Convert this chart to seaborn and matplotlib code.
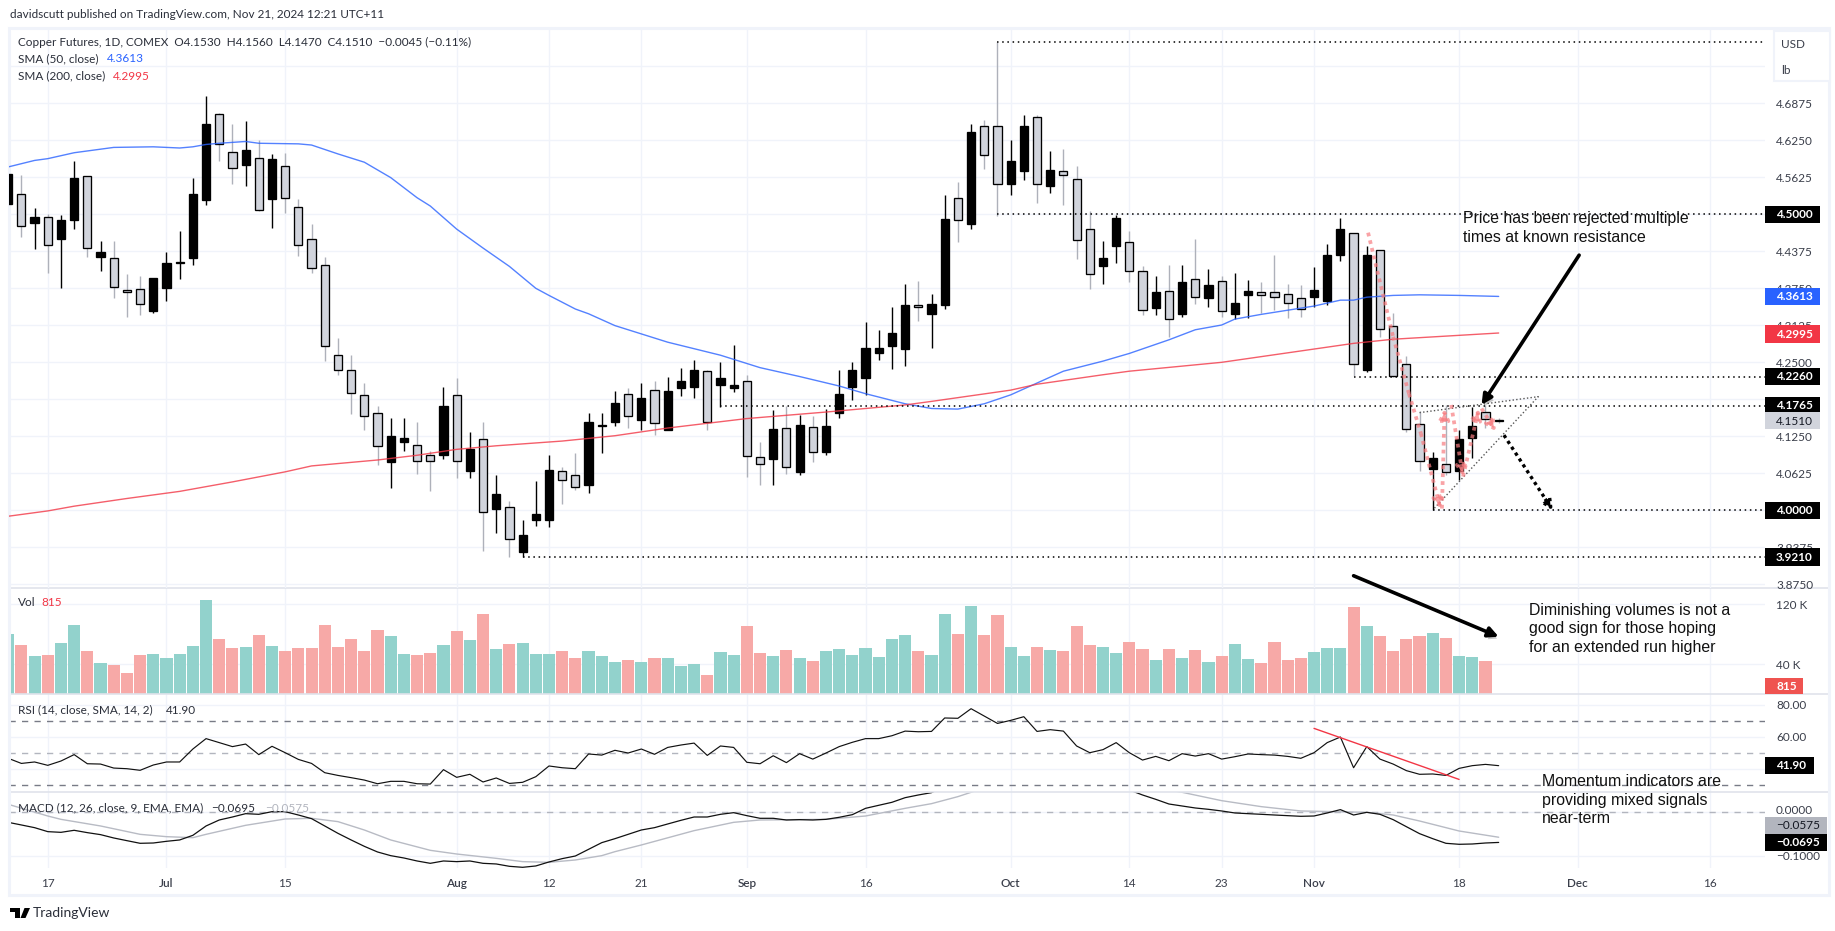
import matplotlib
matplotlib.use("Agg")
import matplotlib.pyplot as plt
import matplotlib.patheffects as pe
from matplotlib.patches import Rectangle, Polygon
import numpy as np
import seaborn as sns

# --- values ---
opens = [4.517,4.534,4.486,4.496,4.459,4.491,4.564,4.428,4.426,4.372,
         4.373,4.336,4.376,4.417,4.427,4.525,4.670,4.606,4.583,4.595,
         4.526,4.581,4.512,4.458,4.415,4.262,4.237,4.194,4.165,4.081,
         4.116,4.111,4.093,4.094,4.194,4.067,4.121,4.003,4.006,3.930,
         3.983,3.983,4.067,4.060,4.042,4.142,4.150,4.196,4.153,4.204,
         4.136,4.207,4.209,4.235,4.212,4.207,4.218,4.090,4.086,4.139,
         4.064,4.140,4.099,4.165,4.209,4.224,4.265,4.278,4.273,4.346,
         4.332,4.346,4.527,4.484,4.649,4.649,4.552,4.573,4.665,4.548,
         4.573,4.559,4.475,4.413,4.447,4.453,4.404,4.341,4.370,4.332,
         4.390,4.359,4.387,4.332,4.363,4.369,4.368,4.365,4.358,4.361,
         4.354,4.431,4.468,4.237,4.439,4.312,4.247,4.145,4.070,4.078,
         4.066,4.123,4.166,4.153]
highs = [4.568,4.566,4.510,4.500,4.499,4.590,4.565,4.455,4.455,4.399,
         4.395,4.392,4.437,4.472,4.562,4.700,4.671,4.653,4.658,4.626,
         4.602,4.604,4.526,4.484,4.428,4.291,4.262,4.215,4.177,4.156,
         4.156,4.150,4.100,4.209,4.223,4.133,4.150,4.059,4.015,3.983,
         4.049,4.093,4.073,4.096,4.164,4.164,4.201,4.207,4.215,4.218,
         4.225,4.240,4.254,4.237,4.251,4.279,4.229,4.115,4.169,4.176,
         4.161,4.159,4.171,4.237,4.251,4.318,4.305,4.343,4.382,4.387,
         4.365,4.533,4.555,4.653,4.659,4.791,4.626,4.668,4.668,4.607,
         4.610,4.582,4.506,4.455,4.499,4.472,4.413,4.396,4.414,4.414,
         4.458,4.407,4.396,4.401,4.389,4.386,4.431,4.383,4.381,4.411,
         4.450,4.494,4.468,4.446,4.440,4.333,4.261,4.167,4.098,4.178,
         4.136,4.175,4.178,4.156]
lows = [4.517,4.462,4.442,4.401,4.376,4.476,4.428,4.405,4.358,4.327,
        4.330,4.333,4.354,4.391,4.415,4.515,4.590,4.552,4.548,4.505,
        4.477,4.503,4.430,4.401,4.253,4.229,4.163,4.136,4.077,4.037,
        4.101,4.062,4.032,4.087,4.055,4.055,3.932,3.961,3.922,3.921,
        3.974,3.972,4.011,4.035,4.030,4.096,4.142,4.139,4.136,4.127,
        4.136,4.193,4.190,4.136,4.175,4.200,4.056,4.043,4.043,4.061,
        4.060,4.082,4.094,4.156,4.186,4.195,4.254,4.239,4.243,4.320,
        4.275,4.340,4.453,4.475,4.577,4.497,4.533,4.558,4.519,4.536,
        4.516,4.425,4.374,4.382,4.418,4.386,4.330,4.330,4.293,4.327,
        4.349,4.343,4.327,4.323,4.325,4.333,4.338,4.325,4.327,4.344,
        4.347,4.421,4.227,4.234,4.293,4.225,4.133,4.067,4.000,4.060,
        4.051,4.089,4.139,4.147]
closes = [4.568,4.481,4.495,4.448,4.490,4.562,4.443,4.437,4.377,4.369,
          4.348,4.392,4.417,4.419,4.534,4.652,4.618,4.578,4.608,4.507,
          4.593,4.527,4.449,4.409,4.278,4.237,4.198,4.160,4.108,4.125,
          4.123,4.084,4.084,4.176,4.083,4.103,3.998,4.027,3.951,3.958,
          3.993,4.068,4.051,4.039,4.150,4.144,4.181,4.159,4.189,4.147,
          4.202,4.218,4.237,4.149,4.224,4.212,4.091,4.079,4.137,4.073,
          4.144,4.098,4.142,4.197,4.237,4.274,4.274,4.300,4.347,4.343,
          4.349,4.492,4.490,4.639,4.600,4.552,4.590,4.649,4.552,4.574,
          4.566,4.456,4.400,4.427,4.493,4.405,4.338,4.368,4.324,4.385,
          4.360,4.380,4.336,4.351,4.370,4.363,4.360,4.351,4.340,4.372,
          4.431,4.475,4.247,4.431,4.306,4.227,4.137,4.083,4.088,4.064,
          4.121,4.142,4.155,4.151]
volumes = [80.4,65.8,51.1,52.4,68.4,92.4,57.8,41.8,39.1,28.4,
           52.4,53.8,48.4,53.8,64.4,125.8,73.8,61.8,63.1,79.1,
           64.4,57.8,61.8,61.8,92.4,63.1,73.8,57.8,85.8,77.8,
           53.8,52.4,55.1,65.8,84.4,72.4,107.1,60.4,67.1,68.4,
           53.8,53.8,57.8,48.4,57.8,51.1,43.1,45.8,43.1,48.4,
           48.4,37.8,40.4,25.8,56.4,52.4,91.1,55.1,51.1,59.1,
           48.4,44.4,57.8,60.4,52.4,61.8,49.8,73.8,79.1,57.8,
           52.4,107.1,80.4,117.8,79.1,105.8,63.1,51.1,63.1,59.1,
           57.8,91.1,65.8,63.1,55.1,69.8,60.4,45.8,60.4,48.4,
           59.1,43.1,51.1,67.1,47.1,41.8,69.8,45.8,48.4,56.4,
           61.8,61.8,116.4,91.1,77.8,57.8,73.8,77.8,81.8,75.1,
           51.1,49.8,44.4,0.815]
rsi = [46.5,43.3,44.2,42.1,44.8,48.8,43.1,42.9,40.4,40.0,
       39.0,42.3,44.2,44.2,52.3,58.8,56.3,53.8,55.4,48.8,
       54.0,50.0,45.8,43.3,37.5,35.8,34.4,32.9,30.6,32.1,
       32.1,30.6,30.4,39.4,34.6,36.5,31.7,34.2,30.8,31.5,
       35.0,41.7,40.6,40.0,49.2,48.5,51.5,49.8,52.3,49.0,
       53.3,54.8,56.0,48.3,54.2,53.3,44.0,43.1,48.1,43.8,
       49.4,46.0,49.8,53.8,56.5,58.8,58.8,60.6,63.5,63.1,
       63.3,71.7,71.5,77.5,72.9,68.3,70.2,72.5,63.3,64.4,
       63.5,54.2,50.0,51.9,56.3,50.0,45.4,47.7,45.0,49.4,
       47.9,49.4,46.0,47.5,49.2,48.8,48.5,47.7,46.5,50.0,
       56.3,59.8,40.6,53.8,46.0,42.9,38.8,36.5,36.7,35.8,
       40.2,41.9,42.7,41.9]
macd = [-.0231,-.0292,-.0354,-.0446,-.0462,-.0415,-.0469,-.0515,-.0592,-.0654,
        -.0715,-.0708,-.0669,-.0638,-.0531,-.0315,-.0177,-.0108,-.0031,-.0046,
        .0015,.0015,-.0062,-.0146,-.0315,-.0485,-.0638,-.0785,-.0915,-.1000,
        -.1054,-.1123,-.1177,-.1123,-.1138,-.1123,-.1177,-.1192,-.1246,-.1269,
        -.1238,-.1146,-.1069,-.1008,-.0854,-.0700,-.0608,-.0508,-.0408,-.0354,
        -.0269,-.0185,-.0108,-.0108,-.0046,-.0008,-.0077,-.0138,-.0138,-.0177,
        -.0169,-.0177,-.0162,-.0115,-.0054,.0092,.0162,.0231,.0338,.0400,
        .0454,.0592,.0708,.0862,.0938,.0977,.0977,.0992,.0938,.0900,
        .0862,.0785,.0708,.0631,.0592,.0515,.0400,.0300,.0192,.0146,
        .0100,.0069,.0031,-.0015,-.0031,-.0046,-.0062,-.0077,-.0092,-.0085,
        -.0015,.0062,-.0062,.0000,-.0046,-.0169,-.0331,-.0492,-.0608,-.0715,
        -.0738,-.0731,-.0708,-.0695]

# moving averages and the signal line, read at these bars
sma50_bars = [0,2,3,5,8,11,13,14,15,16,18,19,22,23,25,27,29,31,32,34,36,38,40,41,43,44,46,50,54,57,
              60,63,65,68,70,72,74,76,78,80,83,85,88,90,92,93,95,99,101,102,103,105,107,110,113]
sma50 = [4.580,4.591,4.594,4.604,4.613,4.614,4.612,4.614,4.618,4.620,4.623,4.620,4.619,4.617,4.602,
         4.588,4.562,4.528,4.514,4.475,4.443,4.412,4.375,4.363,4.340,4.332,4.312,4.284,4.262,4.241,
         4.226,4.210,4.197,4.180,4.172,4.171,4.180,4.195,4.215,4.235,4.252,4.265,4.288,4.305,4.313,
         4.323,4.331,4.345,4.355,4.355,4.360,4.363,4.364,4.363,4.3613]
sma200_bars = [0,3,5,9,13,17,21,23,28,31,34,37,42,46,50,56,62,68,70,76,78,83,85,92,102,105,113]
sma200 = [3.990,3.999,4.007,4.020,4.032,4.048,4.065,4.075,4.085,4.093,4.103,4.109,4.117,4.126,4.139,
          4.155,4.166,4.178,4.184,4.203,4.213,4.229,4.235,4.250,4.282,4.289,4.2995]
signal_bars = [0,3,4,7,10,12,14,15,18,21,23,25,27,29,32,34,37,39,41,43,45,46,48,52,55,57,62,65,68,70,
               72,73,75,78,82,85,88,89,92,95,98,103,105,107,110,113]
signal = [.0185,-.0085,-.0162,-.0315,-.0508,-.0562,-.0585,-.0508,-.0300,-.0154,-.0138,-.0215,-.0408,
          -.0638,-.0877,-.0962,-.1062,-.1138,-.1154,-.1100,-.1000,-.0908,-.0754,-.0423,-.0231,-.0177,
          -.0162,-.0085,.0092,.0200,.0362,.0462,.0669,.0823,.0746,.0631,.0515,.0462,.0269,.0131,.0031,
          .0000,-.0062,-.0200,-.0431,-.0575]

time_ticks = [3,12,21,34,41,48,56,65,76,85,92,99,110,119,129]
time_labels = ["17","Jul","15","Aug","12","21","Sep","16","Oct","14","23","Nov","18","Dec","16"]
major_labels = ["Jul","Aug","Sep","Oct","Nov","Dec"]
price_ticks = [3.875,3.9375,4.0,4.0625,4.125,4.1875,4.25,4.3125,4.375,4.4375,4.5,4.5625,4.625,4.6875,4.75]
price_labels = ["3.8750","3.9375","","4.0625","4.1250","","4.2500","4.3125","4.3750","4.4375","",
                "4.5625","4.6250","4.6875",""]
level_starts = [75,75,102,54,108,39]
level_prices = [4.7905,4.5,4.226,4.1765,4.0,3.921]

W, H = 1835, 931
PANE_L, PANE_R, FRAME_R = 8.5, 1765, 1829
BAR0, BAR_W = 8.2, 13.19
TEXT = "#131722"
AXIS_TEXT = "#3a3e4a"
GRID = "#F0F3FA"
UI_FONT = "Lato"
UI_SIZE = 8.5

sns.set_theme(style="white", rc={"axes.facecolor": "none", "font.family": UI_FONT})
n = len(closes)
bars = np.arange(n)
up = np.array(closes) >= np.array(opens)

fig = plt.figure(figsize=(W / 100, H / 100), dpi=100, facecolor="white")


def pane(top, bottom, z):
    ax = fig.add_axes([PANE_L / W, 1 - bottom / H, (PANE_R - PANE_L) / W, (bottom - top) / H], zorder=z)
    ax.set_xlim((PANE_L - BAR0) / BAR_W, (PANE_R - BAR0) / BAR_W)
    sns.despine(ax=ax, left=True, bottom=True, right=True, top=True)
    ax.set_xticks(time_ticks)
    ax.tick_params(axis="both", length=0, labelbottom=False, labelleft=False)
    ax.yaxis.tick_right()
    ax.grid(True, color=GRID, lw=1)
    ax.set_axisbelow(True)
    return ax


def put(x, y, s, **kw):
    kw.setdefault("color", TEXT)
    kw.setdefault("fontsize", UI_SIZE)
    kw.setdefault("va", "center")
    kw.setdefault("zorder", 8)
    return fig.text(x / W, 1 - y / H, s, **kw)


def tag(y, s, bg, fg="white", right=1820, h=17.5):
    fig.add_artist(Rectangle((PANE_R / W, 1 - (y + h / 2) / H), (right - PANE_R) / W, h / H,
                             transform=fig.transFigure, fc=bg, ec="none", zorder=7))
    put(PANE_R + 11, y, s, color=fg, fontweight="bold")


def value_y(ax, v):
    return H - ax.transData.transform((0, v))[1] * 100 / fig.dpi


ax_price = pane(29, 588, 3)
ax_vol = pane(588, 694.3, 1)
ax_rsi = pane(694.3, 792.3, 1)
ax_macd = pane(792.3, 868, 1)

# candles
ax_price.set_ylim(3.8688, 4.813)
ax_price.set_yticks(price_ticks)
ax_price.set_yticklabels(price_labels)
ax_price.tick_params(axis="y", labelright=True, pad=8, labelsize=UI_SIZE, labelcolor=AXIS_TEXT)
wick_c = ["black" if u else "#AEB1BA" for u in up]
ax_price.vlines(bars, lows, highs, colors=wick_c, lw=1.0, zorder=3)
bottoms = np.minimum(opens, closes)
heights = np.abs(np.array(closes) - np.array(opens))
ax_price.bar(bars, heights, bottom=bottoms, width=0.62, color=["black" if u else "#D1D4DC" for u in up],
             edgecolor="black", linewidth=0.95, zorder=4)

# moving averages
sns.lineplot(x=sma50_bars, y=sma50, ax=ax_price, color="#2962FF", lw=1.0, alpha=0.8, zorder=5, errorbar=None)
sns.lineplot(x=sma200_bars, y=sma200, ax=ax_price, color="#F23645", lw=1.0, alpha=0.8, zorder=5, errorbar=None)

# dotted levels
for start, level in zip(level_starts, level_prices):
    ax_price.plot([start, ax_price.get_xlim()[1]], [level, level], color="black", lw=1.1,
                  ls=(0, (1, 2.4)), zorder=6)

# thin triangle
ax_price.plot([107, 116, 108.1], [4.165, 4.192, 4.003], color="#555555", lw=1.0, ls=(0, (1, 1.6)), zorder=6)

# pink swing path
swing_paths = [((103.1, 4.469), (105.0, 4.293)), ((105.0, 4.293), (106.2, 4.197)), ((106.2, 4.197), (107.1, 4.130)),
               ((107.1, 4.130), (108.6, 4.002)), ((108.7, 4.003), (108.9, 4.172)), ((109.4, 4.178), (110.3, 4.057)),
               ((110.3, 4.057), (111.5, 4.172)), ((111.7, 4.172), (112.8, 4.133))]
for k, (a, b) in enumerate(swing_paths):
    ax_price.annotate("", xy=b, xytext=a, zorder=7,
                      arrowprops=dict(arrowstyle="-|>" if k > 2 else "-", color="#F77C80", alpha=0.7, lw=2.7,
                                      ls=(0, (1, 1.1)), mutation_scale=15, shrinkA=0, shrinkB=0,
                                      capstyle="butt"))

shadow = [pe.withSimplePatchShadow(offset=(1.5, -2.5), alpha=0.22, shadow_rgbFace="black")]
ax_price.annotate("", xy=(117.1, 4.0), xytext=(113.4, 4.127), zorder=7,
                  arrowprops=dict(arrowstyle="-|>", color="black", lw=2.4, ls=(0, (1, 1.1)),
                                  mutation_scale=15, shrinkA=0, shrinkB=0, capstyle="butt"))
ax_price.annotate("", xy=(111.7, 4.178), xytext=(119.1, 4.431), zorder=7,
                  arrowprops=dict(arrowstyle="-|>", color="black", lw=2.6, mutation_scale=15,
                                  shrinkA=0, shrinkB=0, path_effects=shadow))
ax_price.annotate("", xy=(113.0, 3.7865), xytext=(102.0, 3.8895), zorder=7, annotation_clip=False,
                  arrowprops=dict(arrowstyle="-|>", color="black", lw=2.6, mutation_scale=15,
                                  shrinkA=0, shrinkB=0, path_effects=shadow, clip_on=False))

# volume
ax_vol.set_ylim(0, 141.7)
ax_vol.set_yticks([40, 120])
ax_vol.set_yticklabels(["40 K", "120 K"])
ax_vol.tick_params(axis="y", labelright=True, pad=8, labelsize=UI_SIZE, labelcolor=AXIS_TEXT)
sns.barplot(x=bars, y=volumes, hue=["u" if u else "d" for u in up], palette={"u": "#92D2CC", "d": "#F7A9A7"},
            native_scale=True, dodge=False, width=0.92, saturation=1, legend=False, ax=ax_vol,
            linewidth=0, errorbar=None, zorder=3)
ax_vol.set_xlim((PANE_L - BAR0) / BAR_W, (PANE_R - BAR0) / BAR_W)
ax_vol.set_xticks(time_ticks)
ax_vol.tick_params(axis="x", labelbottom=False)
ax_vol.set_ylabel("")

# rsi
ax_rsi.set_ylim(25.25, 86.5)
ax_rsi.set_yticks([40, 60, 80])
ax_rsi.set_yticklabels(["", "60.00", "80.00"])
ax_rsi.tick_params(axis="y", labelright=True, pad=8, labelsize=UI_SIZE, labelcolor=AXIS_TEXT)
for lev, col in [(70, "#787B86"), (50, "#B2B5BE"), (30, "#787B86")]:
    ax_rsi.axhline(lev, color=col, lw=1, ls=(0, (4.5, 4.5)), zorder=2)
sns.lineplot(x=bars, y=rsi, ax=ax_rsi, color="#111111", lw=0.85, zorder=4, errorbar=None)
ax_rsi.plot([99, 110], [65.2, 33.3], color="#F23645", lw=1.0, zorder=5)

# macd
ax_macd.set_ylim(-0.1285, 0.0462)
ax_macd.set_yticks([-0.1, 0.0])
ax_macd.set_yticklabels(["", ""])
ax_macd.axhline(0, color="#B2B5BE", lw=1, ls=(0, (4.5, 4.5)), zorder=2)
sns.lineplot(x=signal_bars, y=signal, ax=ax_macd, color="#B8BBC4", lw=1.0, zorder=3, errorbar=None)
sns.lineplot(x=bars, y=macd, ax=ax_macd, color="#111111", lw=0.9, zorder=4, errorbar=None)
ax_macd.set_xticks(time_ticks)
ax_macd.set_xticklabels(time_labels)
ax_macd.tick_params(axis="x", labelbottom=True, pad=7, labelsize=UI_SIZE, labelcolor=AXIS_TEXT)
for lbl, txt in zip(ax_macd.get_xticklabels(), time_labels):
    if txt in major_labels:
        lbl.set_fontweight("semibold")

# frame and separators
for y in (588, 694.3, 792.3):
    fig.add_artist(plt.Line2D([PANE_L / W, FRAME_R / W], [1 - y / H, 1 - y / H], color="#E0E3EB", lw=1.2, zorder=2))
fig.add_artist(Rectangle((PANE_L / W, 1 - 895 / H), (FRAME_R - PANE_L) / W, (895 - 28) / H,
                         transform=fig.transFigure, fc="none", ec="#F0F3FA", lw=2.2, zorder=2))

# header and pane legends
put(10, 15, "davidscutt published on TradingView.com, Nov 21, 2024 12:21 UTC+11", color="#2a2e39")
put(18, 42, "Copper Futures, 1D, COMEX  O4.1530  H4.1560  L4.1470  C4.1510  \u22120.0045 (\u22120.11%)", color="#2a2e39")
put(18, 59, "SMA (50, close)", color="#2a2e39")
put(107, 59, "4.3613", color="#2962FF")
put(18, 76, "SMA (200, close)", color="#2a2e39")
put(113, 76, "4.2995", color="#F23645")
put(18, 603, "Vol", color="#2a2e39")
put(41.5, 603, "815", color="#F23645")
put(18, 710, "RSI (14, close, SMA, 14, 2)", color="#2a2e39")
put(166, 710, "41.90", color="#2a2e39")
put(18, 808, "MACD (12, 26, close, 9, EMA, EMA)", color="#2a2e39")
put(211, 808, "\u22120.0695", color="#2a2e39")
put(265, 808, "\u22120.0575", color="#B2B5BE")

# currency box
fig.add_artist(plt.Rectangle((1774 / W, 1 - 81 / H), 56 / W, 50 / H, transform=fig.transFigure,
                             fc="white", ec="#F0F3FA", lw=1.5, zorder=6))
put(1781, 44, "USD", color=AXIS_TEXT)
put(1781, 70, "lb", color=AXIS_TEXT)

# value tags on the scales
tag(value_y(ax_price, 4.5), "4.5000", "black")
tag(value_y(ax_price, 4.3613), "4.3613", "#2962FF")
tag(value_y(ax_price, 4.2995) + 1, "4.2995", "#F23645")
tag(value_y(ax_price, 4.2260), "4.2260", "black")
tag(value_y(ax_price, 4.1765), "4.1765", "black")
fig.add_artist(Rectangle((PANE_R / W, 1 - 429 / H), 55 / W, 17 / H, transform=fig.transFigure, fc="#D1D4DC", ec="none", zorder=7))
put(PANE_R + 11, 421, "4.1510", color=TEXT, zorder=8)
tag(value_y(ax_price, 4.0), "4.0000", "black")
tag(value_y(ax_price, 3.921), "3.9210", "black")
tag(686, "815", "#EF5350", right=1803, h=16)
tag(value_y(ax_rsi, 41.9), "41.90", "black", right=1814)
put(PANE_R + 11, 811, "0.0000", color=AXIS_TEXT)
put(PANE_R + 11, 856, "\u22120.1000", color=AXIS_TEXT)
fig.add_artist(Rectangle((PANE_R / W, 1 - 834 / H), 62 / W, 17 / H, transform=fig.transFigure, fc="#B2B5BE", ec="none", zorder=7))
put(PANE_R + 11, 825.7, "\u22120.0575", color=TEXT, zorder=8)
tag(842.7, "\u22120.0695", "black", right=1827)

# author notes
note_kw = dict(family="Liberation Sans", fontsize=11.4, color="#111111", linespacing=1.3)
put(1463, 228, "Price has been rejected multiple\ntimes at known resistance", **note_kw)
put(1529, 629, "Diminishing volumes is not a\ngood sign for those hoping\nfor an extended run higher", **note_kw)
put(1542, 800, "Momentum indicators are\nproviding mixed signals\nnear-term", **note_kw)

# TradingView mark
fig.add_artist(Polygon([[10 / W, 1 - 908 / H], [20 / W, 1 - 908 / H], [20 / W, 1 - 918 / H], [15 / W, 1 - 918 / H],
                        [15 / W, 1 - 912 / H], [10 / W, 1 - 912 / H]], transform=fig.transFigure, fc="black", ec="none", zorder=8))
fig.add_artist(Polygon([[24.5 / W, 1 - 908 / H], [30 / W, 1 - 908 / H], [25.5 / W, 1 - 918 / H], [20.5 / W, 1 - 918 / H]],
                       transform=fig.transFigure, fc="black", ec="none", zorder=8))
put(33, 913, "TradingView", color="#2a2e39", fontsize=10)

fig.savefig("out.png", dpi=100, facecolor="white")
